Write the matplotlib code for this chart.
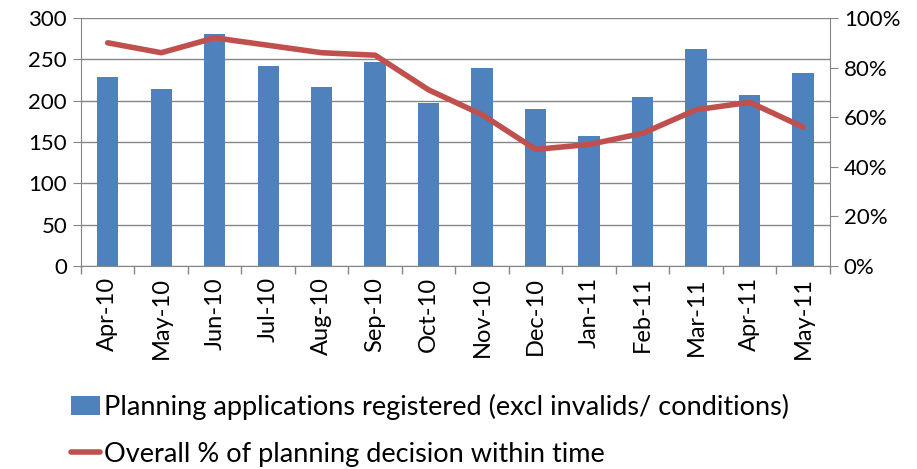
import matplotlib.pyplot as plt
from matplotlib.ticker import PercentFormatter

plt.rcParams['font.family'] = ['Lato', 'DejaVu Sans']

months = ["Apr-10", "May-10", "Jun-10", "Jul-10", "Aug-10", "Sep-10", "Oct-10",
          "Nov-10", "Dec-10", "Jan-11", "Feb-11", "Mar-11", "Apr-11", "May-11"]
registered = [229, 214, 281, 242, 217, 247, 197, 240, 190, 157, 205, 263, 207, 234]
pct_in_time = [90, 86, 92, 89, 86, 85, 71, 61, 47, 49, 53.5, 63, 66, 56]

bar_color = "#4f81bd"
line_color = "#c0504d"
grid_color = "#868686"

fig = plt.figure(figsize=(9.17, 4.69), dpi=100)
ax = fig.add_axes([0.0883, 0.433, 0.8167, 0.5286])
x = list(range(len(months)))
bars = ax.bar(x, registered, width=0.4, color=bar_color, zorder=2,
              label="Planning applications registered (excl invalids/ conditions)")
ax.set_xlim(-0.5, len(months) - 0.5)
ax.set_ylim(0, 300)
ax.set_yticks(range(0, 301, 50))
ax.grid(axis="y", color=grid_color, linewidth=1, zorder=0)
ax.set_xticks(x)
ax.set_xticklabels(months, rotation=90, fontsize=17)
ax.tick_params(axis="x", length=0, pad=8)
ax.set_xticks([i - 0.5 for i in range(len(months) + 1)], minor=True)
ax.tick_params(axis="x", which="minor", length=6, color=grid_color, width=1)
ax.tick_params(axis="y", labelsize=16, length=6, color=grid_color, pad=4)
for side in ["top", "right"]:
    ax.spines[side].set_visible(False)
for side in ["left", "bottom"]:
    ax.spines[side].set_color(grid_color)

ax2 = ax.twinx()
line, = ax2.plot(x, pct_in_time, color=line_color, linewidth=4, solid_capstyle="round",
                 label="Overall % of planning decision within time", zorder=3)
ax2.set_ylim(0, 100)
ax2.set_yticks(range(0, 101, 20))
ax2.yaxis.set_major_formatter(PercentFormatter(decimals=0))
ax2.tick_params(axis="y", labelsize=16, length=6, color=grid_color, pad=4)
for side in ["top", "left", "bottom"]:
    ax2.spines[side].set_visible(False)
ax2.spines["right"].set_color(grid_color)

fig.legend(handles=[bars, line], loc="upper left", bbox_to_anchor=(0.077, 0.16),
           frameon=False, fontsize=19.5, labelspacing=0.8, handlelength=1.1,
           handletextpad=0.12, borderaxespad=0, borderpad=0)

fig.savefig("out.png", dpi=100)
